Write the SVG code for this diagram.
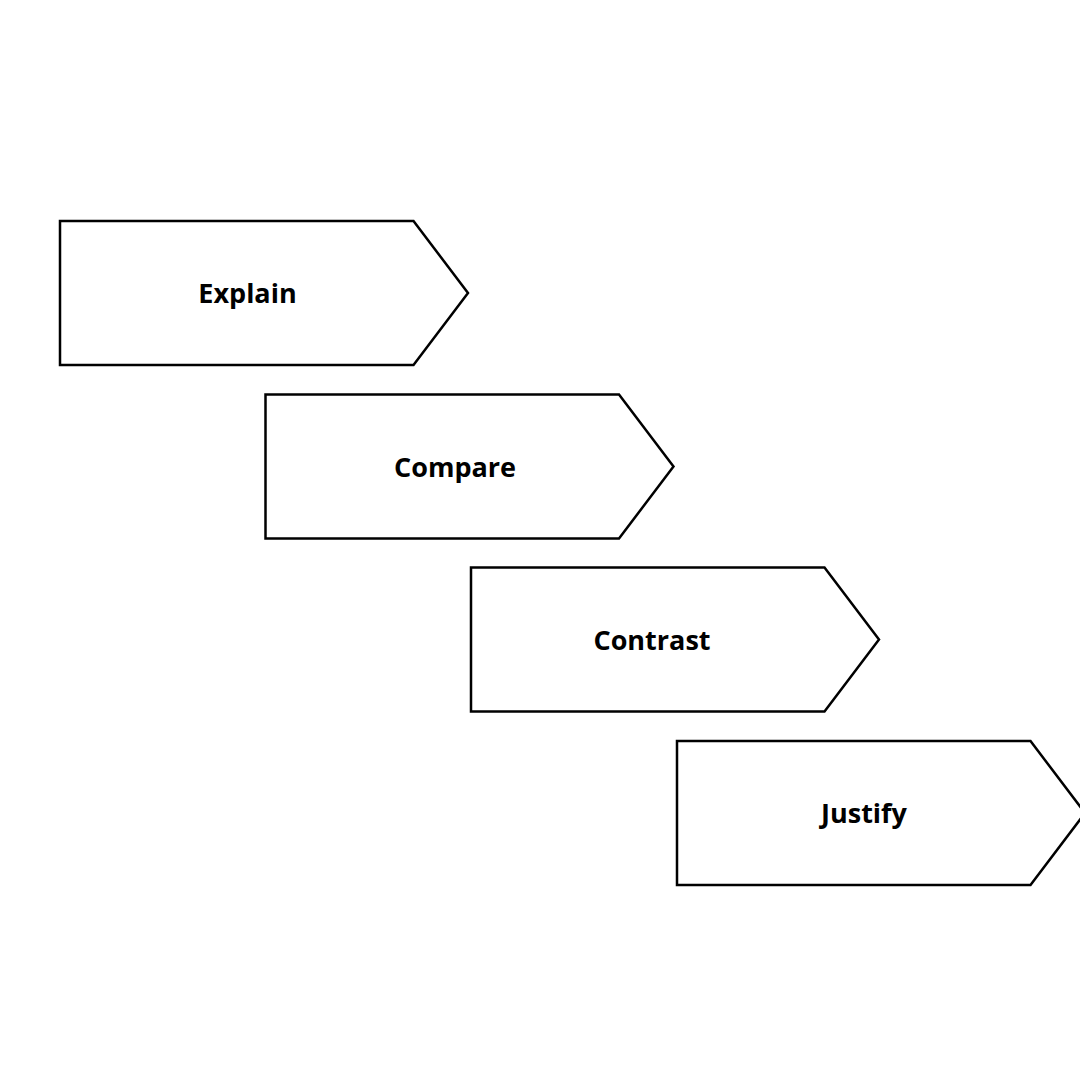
<svg xmlns="http://www.w3.org/2000/svg" width="1080" height="1080" viewBox="0 0 1080 1080">
<style>
.box{fill:#ffffff;stroke:#000000;stroke-width:2.5;stroke-linejoin:miter}
.lbl{font-family:"Open Sans","Liberation Sans",sans-serif;font-weight:700;font-size:27px;fill:#000000;text-anchor:middle}
</style>
<defs>
<path id="chev" d="M0,0 H353.5 L408,72 L353.5,144 H0 Z"/>
</defs>
<rect width="1080" height="1080" fill="#ffffff"/>
<g id="connectors"></g>
<g id="explain">
<use href="#chev" class="box" transform="translate(60,221)"/>
<text class="lbl" x="247.5" y="303">Explain</text>
</g>
<g id="compare">
<use href="#chev" class="box" transform="translate(265.5,394.5)"/>
<text class="lbl" x="455" y="477">Compare</text>
</g>
<g id="contrast">
<use href="#chev" class="box" transform="translate(471,567.5)"/>
<text class="lbl" x="652" y="650">Contrast</text>
</g>
<g id="justify">
<use href="#chev" class="box" transform="translate(677,741)"/>
<text class="lbl" x="864" y="823">Justify</text>
</g>
</svg>
